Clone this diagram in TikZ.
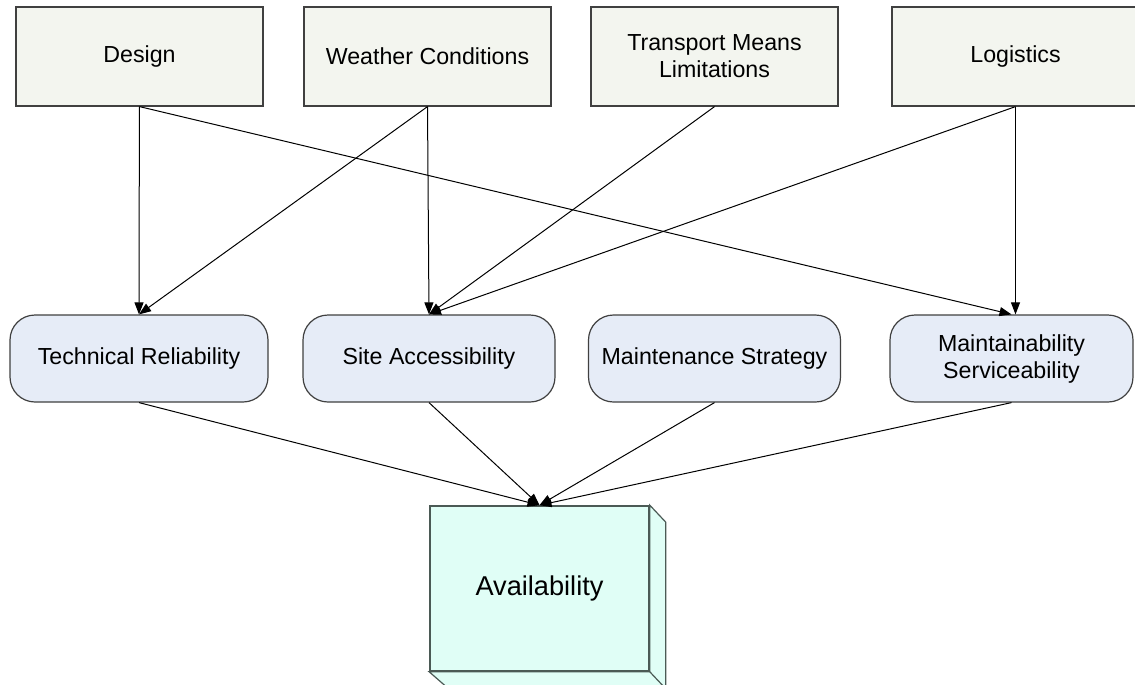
\documentclass[tikz,border=0pt]{standalone}
\usepackage{fontspec}
\setmainfont{Liberation Sans}
\usetikzlibrary{arrows.meta, positioning, calc}
\definecolor{factorfill}{HTML}{F3F5EF}
\definecolor{aspectfill}{HTML}{E6ECF7}
\definecolor{availfill}{HTML}{E0FEF6}
\definecolor{boxline}{HTML}{404040}
\definecolor{availline}{HTML}{4B5A55}

\tikzset{
  factor/.style={draw=boxline, line width=0.6pt, fill=factorfill,
                 minimum width=123.5pt, minimum height=49.5pt, align=center,
                 font=\fontsize{11.6}{13.5}\selectfont},
  aspect/.style={factor, fill=aspectfill, rounded corners=12.5pt,
                 minimum width=126pt, minimum height=43.5pt},
  link/.style={-{Triangle[length=6pt, width=4.5pt]}, line width=0.5pt},
}

\begin{document}
\begin{tikzpicture}[x=0.5pt, y=-0.5pt]
  \useasboundingbox (0,0) rectangle (1135,685);

  %% Influencing factors (top row)
  \node[factor] (design)    at (139.5,56.5)  {Design};
  \node[factor] (weather)   at (427.5,56.5)  {Weather Conditions};
  \node[factor] (transport) at (714.5,56.5)  {Transport Means\\Limitations};
  \node[factor] (logistics) at (1015.5,56.5) {Logistics};

  %% Aspects (middle row)
  \node[aspect, minimum width=129pt] (reliab) at (139,358.5) {Technical Reliability};
  \node[aspect] (access)  at (429,358.5)   {Site Accessibility};
  \node[aspect] (strat)   at (714.5,358.5) {Maintenance Strategy};
  \node[aspect, minimum width=121.5pt] (service) at (1011.5,358.5)
    {Maintainability\\Serviceability};

  %% Availability box with depth
  \node[draw=availline, line width=0.8pt, fill=availfill,
        minimum width=109.5pt, minimum height=82.5pt,
        font=\fontsize{13.6}{16}\selectfont] (avail) at (539.5,588.5) {Availability};
  \filldraw[fill=availfill, draw=availline, line width=0.6pt]
    (avail.north east) -- ++(16,17) -- ++(0,165) -- ++(-219,0)
    -- (avail.south west) -- (avail.south east) -- cycle;
  \draw[availline, line width=0.6pt] (avail.south east) -- ++(16,17);

  %% Links factors -> aspects
  \draw[link] (design)    -- (reliab.north);
  \draw[link] (design.south) -- (service.north);
  \draw[link] (weather.south) -- (reliab.north);
  \draw[link] (weather.south) -- (access.north);
  \draw[link] (transport.south) -- (access.north);
  \draw[link] (logistics.south) -- (access.north);
  \draw[link] (logistics.south) -- (logistics.south |- service.north);

  %% Links aspects -> availability
  \foreach \n in {reliab, access, strat, service} {
    \draw[link] (\n.south) -- (avail.north);
  }
\end{tikzpicture}
\end{document}
